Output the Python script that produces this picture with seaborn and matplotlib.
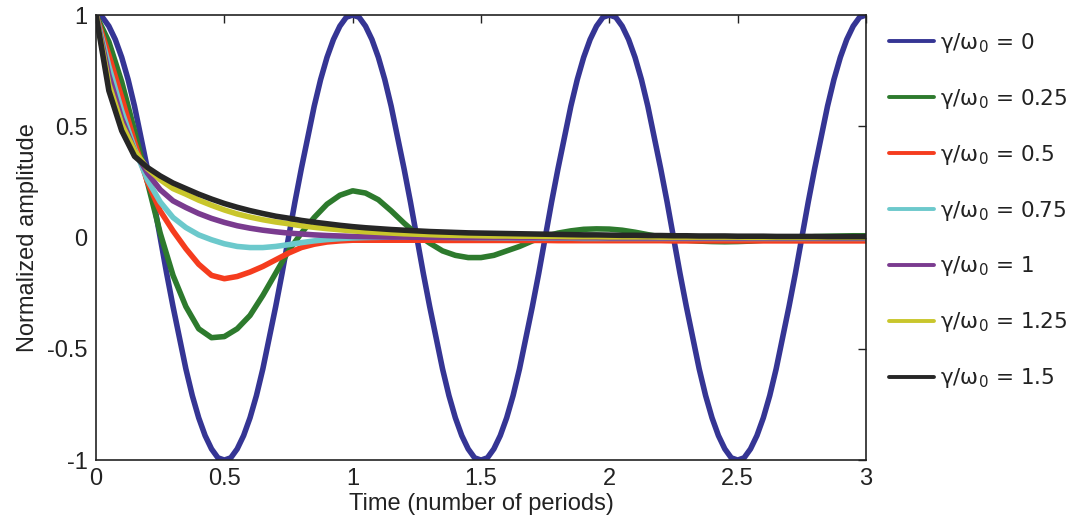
import matplotlib
matplotlib.use("Agg")
import matplotlib.pyplot as plt
from matplotlib.lines import Line2D
import seaborn as sns
import pandas as pd

# time axis (number of periods), damped curves read every 0.05
time = [0.00, 0.05, 0.10, 0.15, 0.20, 0.25, 0.30, 0.35, 0.40, 0.45,
        0.50, 0.55, 0.60, 0.65, 0.70, 0.75, 0.80, 0.85, 0.90, 0.95,
        1.00, 1.05, 1.10, 1.15, 1.20, 1.25, 1.30, 1.35, 1.40, 1.45,
        1.50, 1.55, 1.60, 1.65, 1.70, 1.75, 1.80, 1.85, 1.90, 1.95,
        2.00, 2.05, 2.10, 2.15, 2.20, 2.25, 2.30, 2.35, 2.40, 2.45,
        2.50, 2.55, 2.60, 2.65, 2.70, 2.75, 2.80, 2.85, 2.90, 2.95,
        3.00]

# undamped curve read every 0.025 (one period = 40 readings)
time_fine = [0.000, 0.025, 0.050, 0.075, 0.100, 0.125, 0.150, 0.175, 0.200, 0.225,
             0.250, 0.275, 0.300, 0.325, 0.350, 0.375, 0.400, 0.425, 0.450, 0.475,
             0.500, 0.525, 0.550, 0.575, 0.600, 0.625, 0.650, 0.675, 0.700, 0.725,
             0.750, 0.775, 0.800, 0.825, 0.850, 0.875, 0.900, 0.925, 0.950, 0.975,
             1.000, 1.025, 1.050, 1.075, 1.100, 1.125, 1.150, 1.175, 1.200, 1.225,
             1.250, 1.275, 1.300, 1.325, 1.350, 1.375, 1.400, 1.425, 1.450, 1.475,
             1.500, 1.525, 1.550, 1.575, 1.600, 1.625, 1.650, 1.675, 1.700, 1.725,
             1.750, 1.775, 1.800, 1.825, 1.850, 1.875, 1.900, 1.925, 1.950, 1.975,
             2.000, 2.025, 2.050, 2.075, 2.100, 2.125, 2.150, 2.175, 2.200, 2.225,
             2.250, 2.275, 2.300, 2.325, 2.350, 2.375, 2.400, 2.425, 2.450, 2.475,
             2.500, 2.525, 2.550, 2.575, 2.600, 2.625, 2.650, 2.675, 2.700, 2.725,
             2.750, 2.775, 2.800, 2.825, 2.850, 2.875, 2.900, 2.925, 2.950, 2.975,
             3.000]

amp_0 = [1.00, 0.99, 0.95, 0.89, 0.81, 0.71, 0.59, 0.45, 0.31, 0.16,
         0.00, -0.16, -0.31, -0.45, -0.59, -0.71, -0.81, -0.89, -0.95, -0.99,
         -1.00, -0.99, -0.95, -0.89, -0.81, -0.71, -0.59, -0.45, -0.31, -0.16,
         0.00, 0.16, 0.31, 0.45, 0.59, 0.71, 0.81, 0.89, 0.95, 0.99,
         1.00, 0.99, 0.95, 0.89, 0.81, 0.71, 0.59, 0.45, 0.31, 0.16,
         0.00, -0.16, -0.31, -0.45, -0.59, -0.71, -0.81, -0.89, -0.95, -0.99,
         -1.00, -0.99, -0.95, -0.89, -0.81, -0.71, -0.59, -0.45, -0.31, -0.16,
         0.00, 0.16, 0.31, 0.45, 0.59, 0.71, 0.81, 0.89, 0.95, 0.99,
         1.00, 0.99, 0.95, 0.89, 0.81, 0.71, 0.59, 0.45, 0.31, 0.16,
         0.00, -0.16, -0.31, -0.45, -0.59, -0.71, -0.81, -0.89, -0.95, -0.99,
         -1.00, -0.99, -0.95, -0.89, -0.81, -0.71, -0.59, -0.45, -0.31, -0.16,
         0.00, 0.16, 0.31, 0.45, 0.59, 0.71, 0.81, 0.89, 0.95, 0.99,
         1.00]
amp_025 = [1.00, 0.88, 0.70, 0.48, 0.25, 0.02, -0.17, -0.31, -0.41, -0.45,
           -0.445, -0.41, -0.35, -0.26, -0.16, -0.06, 0.02, 0.09, 0.15, 0.19,
           0.21, 0.20, 0.17, 0.12, 0.065, 0.015, -0.025, -0.06, -0.08, -0.09,
           -0.09, -0.08, -0.06, -0.04, -0.015, 0.005, 0.02, 0.03, 0.037, 0.039,
           0.038, 0.033, 0.024, 0.013, 0.003, -0.006, -0.012, -0.016, -0.018, -0.019,
           -0.018, -0.016, -0.012, -0.007, -0.003, 0.001, 0.004, 0.006, 0.007, 0.008,
           0.008]
amp_05 = [1.00, 0.82, 0.63, 0.43, 0.25, 0.12, 0.03, -0.05, -0.12, -0.17,
          -0.185, -0.175, -0.155, -0.13, -0.10, -0.07, -0.045, -0.03, -0.02, -0.015,
          -0.012, -0.012, -0.012, -0.012, -0.012, -0.012, -0.012, -0.013, -0.013, -0.013,
          -0.013, -0.013, -0.013, -0.013, -0.013, -0.013, -0.014, -0.014, -0.014, -0.014,
          -0.014, -0.014, -0.014, -0.014, -0.014, -0.015, -0.015, -0.015, -0.015, -0.015,
          -0.015, -0.015, -0.015, -0.015, -0.015, -0.015, -0.015, -0.015, -0.015, -0.015,
          -0.015]
amp_075 = [1.00, 0.77, 0.57, 0.40, 0.26, 0.16, 0.09, 0.045, 0.012, -0.01,
           -0.028, -0.040, -0.045, -0.045, -0.040, -0.032, -0.023, -0.015, -0.009, -0.005,
           -0.002, 0.000, 0.001, 0.002, 0.002, 0.002, 0.001, 0.001, 0.000, 0.000,
           -0.001, -0.001, -0.002, -0.002, -0.003, -0.003, -0.003, -0.003, -0.004, -0.004,
           -0.004, -0.004, -0.004, -0.004, -0.004, -0.004, -0.004, -0.004, -0.004, -0.004,
           -0.004, -0.004, -0.004, -0.004, -0.004, -0.004, -0.004, -0.004, -0.004, -0.004,
           -0.004]
amp_1 = [1.00, 0.73, 0.535, 0.39, 0.29, 0.215, 0.165, 0.135, 0.108, 0.086,
         0.068, 0.053, 0.042, 0.033, 0.026, 0.020, 0.016, 0.012, 0.009, 0.007,
         0.005, 0.004, 0.003, 0.002, 0.002, 0.001, 0.001, 0.001, 0.000, 0.000,
         0.000, 0.000, 0.000, -0.001, -0.001, -0.001, -0.001, -0.001, -0.001, -0.001,
         -0.002, -0.002, -0.002, -0.002, -0.002, -0.002, -0.002, -0.002, -0.002, -0.002,
         -0.002, -0.002, -0.002, -0.002, -0.002, -0.002, -0.002, -0.002, -0.002, -0.002,
         -0.002]
amp_125 = [1.00, 0.69, 0.51, 0.39, 0.31, 0.26, 0.22, 0.195, 0.168, 0.145,
           0.124, 0.106, 0.092, 0.080, 0.070, 0.062, 0.053, 0.046, 0.040, 0.035,
           0.030, 0.026, 0.023, 0.020, 0.017, 0.015, 0.013, 0.011, 0.010, 0.009,
           0.008, 0.007, 0.007, 0.006, 0.006, 0.005, 0.005, 0.004, 0.004, 0.004,
           0.003, 0.003, 0.003, 0.003, 0.002, 0.002, 0.002, 0.002, 0.002, 0.002,
           0.002, 0.001, 0.001, 0.001, 0.001, 0.001, 0.001, 0.001, 0.001, 0.001,
           0.001]
amp_15 = [1.00, 0.66, 0.48, 0.365, 0.315, 0.277, 0.245, 0.22, 0.195, 0.173,
          0.153, 0.136, 0.121, 0.108, 0.096, 0.087, 0.077, 0.069, 0.062, 0.055,
          0.049, 0.044, 0.040, 0.036, 0.033, 0.030, 0.027, 0.025, 0.023, 0.021,
          0.020, 0.019, 0.018, 0.017, 0.016, 0.015, 0.014, 0.013, 0.012, 0.012,
          0.011, 0.010, 0.010, 0.009, 0.009, 0.008, 0.008, 0.007, 0.007, 0.007,
          0.006, 0.006, 0.006, 0.005, 0.005, 0.005, 0.005, 0.004, 0.004, 0.004,
          0.004]

labels = ["γ/ω$_0$ = 0", "γ/ω$_0$ = 0.25", "γ/ω$_0$ = 0.5", "γ/ω$_0$ = 0.75",
          "γ/ω$_0$ = 1", "γ/ω$_0$ = 1.25", "γ/ω$_0$ = 1.5"]
series = [amp_0, amp_025, amp_05, amp_075, amp_1, amp_125, amp_15]
colors = ["#353594", "#2d7a2d", "#f53c1e", "#6cc9cc", "#7a3b8f", "#c9c62c", "#262626"]

xticks = [0, 0.5, 1, 1.5, 2, 2.5, 3]
xtick_labels = ["0", "0.5", "1", "1.5", "2", "2.5", "3"]
yticks = [-1, -0.5, 0, 0.5, 1]
ytick_labels = ["-1", "-0.5", "0", "0.5", "1"]

rows = []
for lab, vals in zip(labels, series):
    tt = time_fine if len(vals) == len(time_fine) else time
    for t, v in zip(tt, vals):
        rows.append({"time": t, "amp": v, "ratio": lab})
df = pd.DataFrame(rows)

sns.set_style("white")
plt.rcParams["font.family"] = ["Liberation Sans", "DejaVu Sans"]
plt.rcParams["mathtext.fontset"] = "dejavusans"

fig, ax = plt.subplots(figsize=(10.79, 5.27), dpi=100)
fig.subplots_adjust(left=0.089, right=0.8026, bottom=0.127, top=0.9715)

sns.lineplot(data=df, x="time", y="amp", hue="ratio", hue_order=labels,
             palette=dict(zip(labels, colors)), linewidth=4.0, ax=ax,
             legend=False, errorbar=None)

ax.set_xlim(0, 3)
ax.set_ylim(-1, 1)
ax.set_xticks(xticks)
ax.set_xticklabels(xtick_labels)
ax.set_yticks(yticks)
ax.set_yticklabels(ytick_labels)
ax.tick_params(direction="in", top=True, right=True, length=6, width=1,
               labelsize=17, pad=6, colors="#222222")
for sp in ax.spines.values():
    sp.set_color("#222222")
    sp.set_linewidth(1.2)

ax.set_xlabel("Time (number of periods)", fontsize=17, labelpad=2, color="#222222")
ax.set_ylabel("Normalized amplitude", fontsize=17, labelpad=6, color="#222222")

handles = [Line2D([0], [0], color=c, lw=2.8) for c in colors]
fig.legend(handles, labels, loc="upper left", bbox_to_anchor=(0.806, 0.978),
           frameon=False, prop={"family": "DejaVu Sans", "size": 15.5},
           handlelength=2.1, handletextpad=0.25, labelspacing=1.48,
           labelcolor="#222222")

fig.savefig("out.png", dpi=100)
